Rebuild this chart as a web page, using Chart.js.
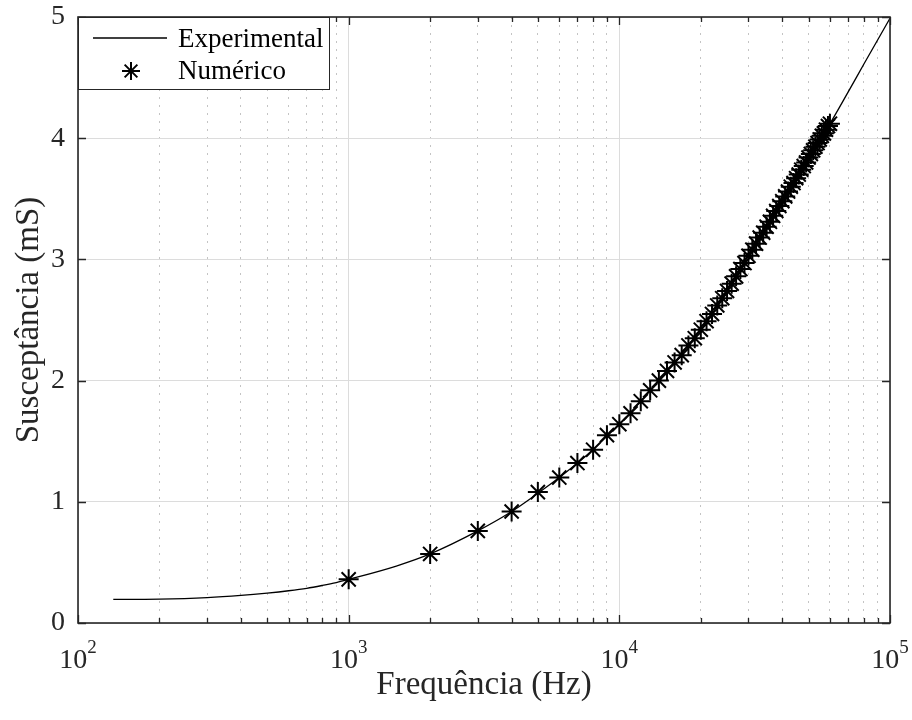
<!DOCTYPE html>
<html>
<head>
<meta charset="utf-8">
<title>Susceptância x Frequência</title>
<script src="https://cdn.jsdelivr.net/npm/chart.js@4.4.1/dist/chart.umd.min.js"></script>
<style>
  html, body { margin: 0; padding: 0; background: #fff; }
  #wrap { width: 912px; height: 720px; }
</style>
</head>
<body>
<div id="wrap"><canvas id="chart" width="912" height="720"></canvas></div>
<script>
// Numérico: one point every 1 kHz, 1 kHz .. 60 kHz (values in mS)
const numFreq = [
  1000, 2000, 3000, 4000, 5000, 6000, 7000, 8000, 9000, 10000,
  11000, 12000, 13000, 14000, 15000, 16000, 17000, 18000, 19000, 20000,
  21000, 22000, 23000, 24000, 25000, 26000, 27000, 28000, 29000, 30000,
  31000, 32000, 33000, 34000, 35000, 36000, 37000, 38000, 39000, 40000,
  41000, 42000, 43000, 44000, 45000, 46000, 47000, 48000, 49000, 50000,
  51000, 52000, 53000, 54000, 55000, 56000, 57000, 58000, 59000, 60000
];
const numB = [
  0.36, 0.57, 0.76, 0.92, 1.08, 1.20, 1.32, 1.43, 1.55, 1.64,
  1.73, 1.83, 1.92, 2.00, 2.08, 2.15, 2.21, 2.29, 2.35, 2.42,
  2.49, 2.55, 2.62, 2.68, 2.74, 2.80, 2.86, 2.92, 2.97, 3.03,
  3.08, 3.13, 3.18, 3.22, 3.27, 3.31, 3.36, 3.40, 3.44, 3.48,
  3.52, 3.56, 3.60, 3.63, 3.67, 3.70, 3.74, 3.77, 3.80, 3.84,
  3.87, 3.90, 3.93, 3.96, 3.99, 4.02, 4.04, 4.07, 4.10, 4.12
];

// Experimental curve
const expFreq = [
  135, 150, 200, 300, 400, 500, 600, 700, 800, 900,
  1000, 1500, 2000, 3000, 4000, 5000, 6000, 7000, 8000, 9000,
  10000, 12000, 14000, 16000, 18000, 20000, 25000, 30000, 35000, 40000,
  45000, 50000, 55000, 60000, 70000, 80000, 90000, 100000
];
const expB = [
  0.195, 0.195, 0.197, 0.21, 0.228, 0.247, 0.266, 0.286, 0.31, 0.334,
  0.36, 0.47, 0.57, 0.76, 0.92, 1.07, 1.20, 1.32, 1.43, 1.54,
  1.64, 1.83, 2.00, 2.15, 2.29, 2.42, 2.74, 3.03, 3.27, 3.48,
  3.67, 3.84, 3.99, 4.12, 4.38, 4.61, 4.81, 4.99
];

// Axis ticks
const decadeTicks = [100, 1000, 10000, 100000];
const decadeExp = ["2", "3", "4", "5"];
const minorTicks = [
  200, 300, 400, 500, 600, 700, 800, 900,
  2000, 3000, 4000, 5000, 6000, 7000, 8000, 9000,
  20000, 30000, 40000, 50000, 60000, 70000, 80000, 90000
];
const yTicks = [0, 1, 2, 3, 4, 5];

const FONT = "'Liberation Serif', 'Times New Roman', serif";
const INK = "#262626";

function star(ctx, x, y, r) {
  for (let k = 0; k < 4; k++) {
    const a = k * Math.PI / 4;
    ctx.moveTo(x - r * Math.cos(a), y - r * Math.sin(a));
    ctx.lineTo(x + r * Math.cos(a), y + r * Math.sin(a));
  }
}

// MATLAB-like box, inward ticks, 10^n labels and legend
const matlabFrame = {
  id: "matlabFrame",
  afterDraw(chart) {
    const { ctx, chartArea: a, scales } = chart;
    ctx.save();

    // inward tick marks
    ctx.strokeStyle = INK;
    ctx.lineWidth = 1.3;
    ctx.beginPath();
    decadeTicks.forEach(v => {
      const px = Math.round(scales.x.getPixelForValue(v)) + 0.5;
      ctx.moveTo(px, a.bottom); ctx.lineTo(px, a.bottom - 8);
      ctx.moveTo(px, a.top); ctx.lineTo(px, a.top + 8);
    });
    minorTicks.forEach(v => {
      const px = Math.round(scales.x.getPixelForValue(v)) + 0.5;
      ctx.moveTo(px, a.bottom); ctx.lineTo(px, a.bottom - 5);
      ctx.moveTo(px, a.top); ctx.lineTo(px, a.top + 5);
    });
    yTicks.forEach(v => {
      const py = Math.round(scales.y.getPixelForValue(v)) + 0.5;
      ctx.moveTo(a.left, py); ctx.lineTo(a.left + 8, py);
      ctx.moveTo(a.right, py); ctx.lineTo(a.right - 8, py);
    });
    ctx.stroke();

    // box
    ctx.lineWidth = 1.6;
    ctx.strokeRect(a.left, a.top, a.right - a.left, a.bottom - a.top);

    // x tick labels 10^n
    ctx.fillStyle = INK;
    ctx.textAlign = "left";
    ctx.textBaseline = "alphabetic";
    decadeTicks.forEach((v, i) => {
      const px = scales.x.getPixelForValue(v);
      ctx.font = "28px " + FONT;
      const w1 = ctx.measureText("10").width;
      ctx.font = "19px " + FONT;
      const w2 = ctx.measureText(decadeExp[i]).width;
      const x0 = px - (w1 + w2) / 2;
      ctx.font = "28px " + FONT;
      ctx.fillText("10", x0, a.bottom + 45);
      ctx.font = "19px " + FONT;
      ctx.fillText(decadeExp[i], x0 + w1, a.bottom + 30);
    });

    // legend
    const lx = a.left, ly = a.top, lw = 251, lh = 72;
    ctx.fillStyle = "#fff";
    ctx.fillRect(lx, ly, lw, lh);
    ctx.strokeStyle = INK;
    ctx.lineWidth = 1;
    ctx.strokeRect(lx + 0.5, ly + 0.5, lw, lh);
    const ds = chart.data.datasets;
    ctx.strokeStyle = "#000";
    ctx.lineWidth = 1.3;
    ctx.beginPath();
    ctx.moveTo(lx + 15, ly + 21); ctx.lineTo(lx + 89, ly + 21);
    ctx.stroke();
    ctx.lineWidth = 2;
    ctx.beginPath();
    star(ctx, lx + 53, ly + 54, 9);
    ctx.stroke();
    ctx.fillStyle = "#000";
    ctx.font = "27px " + FONT;
    ctx.fillText(ds[0].label, lx + 100, ly + 30);
    ctx.fillText(ds[1].label, lx + 100, ly + 62);

    ctx.restore();
  }
};

new Chart(document.getElementById("chart").getContext("2d"), {
  type: "line",
  data: {
    datasets: [
      {
        label: "Experimental",
        data: expFreq.map((f, i) => ({ x: f, y: expB[i] })),
        borderColor: "#000",
        borderWidth: 1.3,
        pointRadius: 0,
        fill: false,
        cubicInterpolationMode: "monotone",
        order: 2
      },
      {
        label: "Numérico",
        data: numFreq.map((f, i) => ({ x: f, y: numB[i] })),
        showLine: false,
        pointStyle: "star",
        pointRadius: 10,
        pointBorderWidth: 2,
        pointBorderColor: "#000",
        pointBackgroundColor: "#000",
        borderColor: "#000",
        order: 1
      }
    ]
  },
  options: {
    responsive: false,
    animation: false,
    layout: { padding: { top: 17, right: 22, left: 0, bottom: 0 } },
    plugins: { legend: { display: false }, tooltip: { enabled: false } },
    scales: {
      x: {
        type: "logarithmic",
        min: 100,
        max: 100000,
        afterBuildTicks: s => { s.ticks = decadeTicks.map(v => ({ value: v })); },
        ticks: { display: false },
        grid: { color: "#dcdcdc", lineWidth: 1, drawTicks: false },
        border: { display: false },
        title: {
          display: true,
          text: "Frequência (Hz)",
          color: INK,
          font: { family: FONT, size: 33 },
          padding: { top: 0, bottom: 15 }
        },
        afterFit: s => { s.height = 97; s.paddingLeft = 0; s.paddingRight = 0; }
      },
      xMinor: {
        type: "logarithmic",
        position: "bottom",
        min: 100,
        max: 100000,
        afterBuildTicks: s => { s.ticks = minorTicks.map(v => ({ value: v })); },
        ticks: { display: false },
        grid: { color: "#c4c4c4", lineWidth: 1, drawTicks: false },
        border: { display: false, dash: [2, 6] },
        afterFit: s => { s.height = 0; s.paddingLeft = 0; s.paddingRight = 0; }
      },
      y: {
        min: 0,
        max: 5,
        afterBuildTicks: s => { s.ticks = yTicks.map(v => ({ value: v })); },
        ticks: { color: INK, font: { family: FONT, size: 28 }, padding: 13 },
        grid: { color: "#dcdcdc", lineWidth: 1, drawTicks: false },
        border: { display: false },
        title: {
          display: true,
          text: "Susceptância (mS)",
          color: INK,
          font: { family: FONT, size: 33 },
          padding: { top: 10, bottom: 0 }
        },
        afterFit: s => { s.width = 78; s.paddingTop = 0; s.paddingBottom = 0; }
      }
    }
  },
  plugins: [matlabFrame]
});
</script>
</body>
</html>
